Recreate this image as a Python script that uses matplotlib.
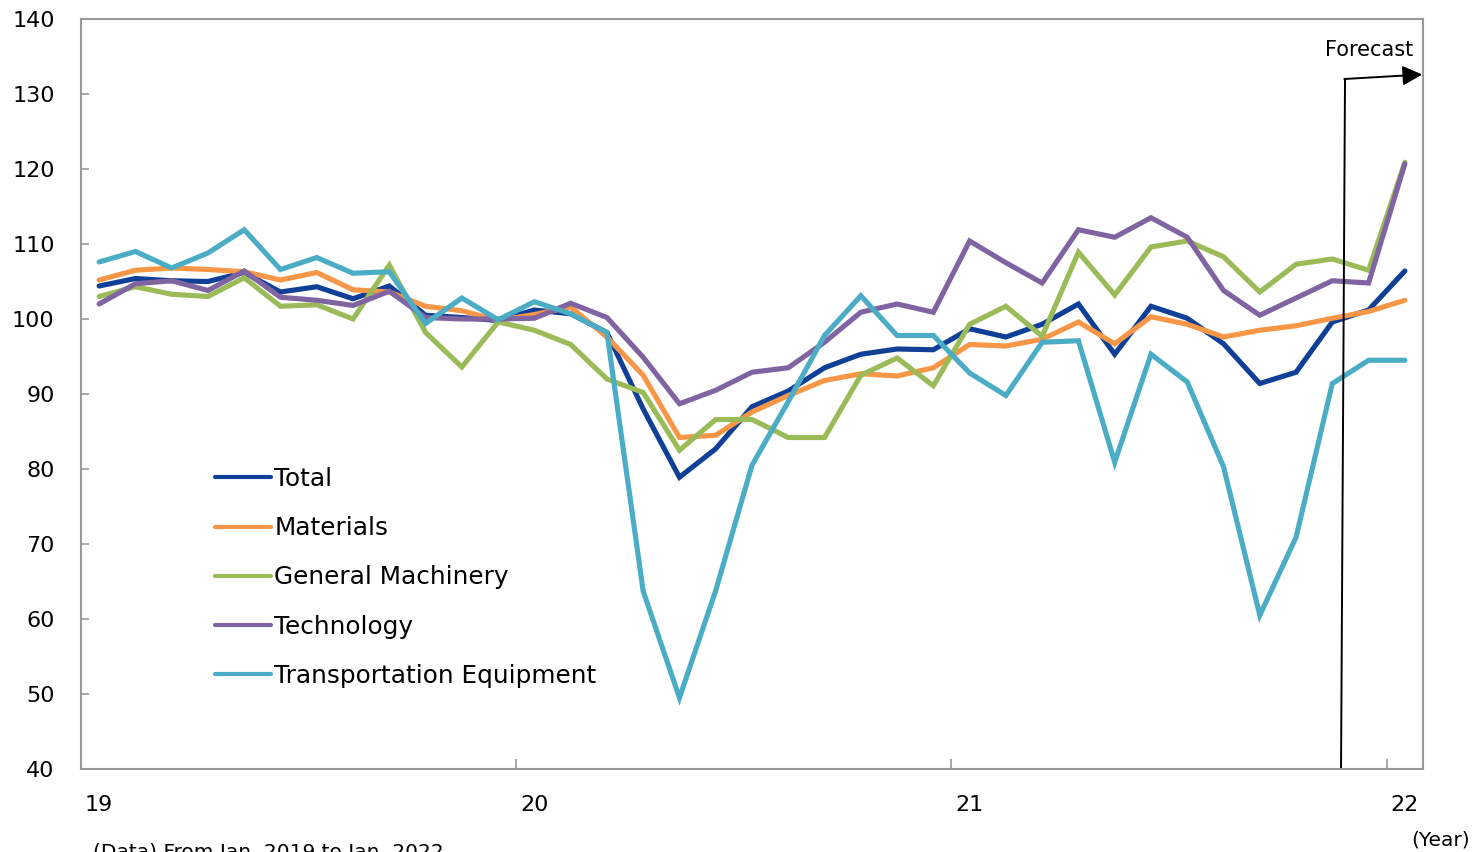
import matplotlib
matplotlib.use('Agg')
import matplotlib.pyplot as plt

# monthly index, Jan 2019 .. Jan 2022
months = list(range(37))
year_labels = ['19', '20', '21', '22']

total = [104.4, 105.4, 105.1, 105.0, 106.2, 103.6, 104.3, 102.7, 104.4, 100.5, 100.2, 99.8,
         101.2, 100.7, 98.2, 88.0, 78.9, 82.7, 88.3, 90.4, 93.5, 95.3, 96.0, 95.9,
         98.7, 97.6, 99.3, 102.0, 95.3, 101.7, 100.1, 96.7, 91.4, 92.9, 99.6, 101.2, 106.4]
materials = [105.2, 106.5, 106.8, 106.6, 106.3, 105.2, 106.2, 103.9, 103.6, 101.7, 101.1, 99.8,
             100.6, 101.6, 97.6, 92.5, 84.2, 84.5, 87.6, 89.8, 91.8, 92.7, 92.4, 93.5,
             96.6, 96.4, 97.3, 99.6, 96.7, 100.3, 99.3, 97.6, 98.5, 99.1, 100.1, 101.0, 102.5]
general = [103.0, 104.3, 103.3, 103.0, 105.5, 101.7, 101.9, 100.0, 107.2, 98.2, 93.6, 99.6,
           98.5, 96.6, 92.0, 90.2, 82.5, 86.6, 86.6, 84.2, 84.2, 92.5, 94.8, 91.1,
           99.3, 101.7, 97.7, 108.9, 103.2, 109.6, 110.4, 108.3, 103.6, 107.3, 108.0, 106.5, 120.9]
technology = [102.0, 104.7, 105.1, 103.8, 106.4, 102.9, 102.5, 101.8, 103.7, 100.2, 100.0, 100.0,
              100.1, 102.1, 100.2, 94.9, 88.7, 90.5, 92.9, 93.5, 96.9, 100.9, 102.0, 100.9,
              110.4, 107.5, 104.8, 111.9, 110.9, 113.5, 110.9, 103.8, 100.5, 102.8, 105.1, 104.8, 120.7]
transport = [107.6, 109.0, 106.8, 108.8, 111.9, 106.6, 108.2, 106.1, 106.3, 99.4, 102.8, 99.9,
             102.3, 100.7, 98.2, 63.7, 49.5, 63.8, 80.5, 89.0, 97.8, 103.1, 97.8, 97.8,
             92.8, 89.8, 96.9, 97.1, 80.9, 95.3, 91.6, 80.3, 60.5, 70.9, 91.4, 94.5, 94.5]

series = [('Total', total, '#0F3F96'),
          ('Materials', materials, '#F79646'),
          ('General Machinery', general, '#9BBB59'),
          ('Technology', technology, '#8064A2'),
          ('Transportation Equipment', transport, '#4BACC6')]

fig = plt.figure(figsize=(14.77, 8.52), dpi=100)
ax = fig.add_axes([81/1477, 1-769/852, (1423-81)/1477, (769-19)/852])

for name, vals, col in series:
    ax.plot(months, vals, color=col, lw=3.7, label=name, solid_capstyle='round',
            solid_joinstyle='miter')

ax.set_xlim(-0.5, 36.5)
ax.set_ylim(40, 140)
ax.set_yticks(range(40, 141, 10))
ax.set_xticks([11.5, 23.5, 35.5])
ax.set_xticklabels([])
ax.set_xticks([0, 12, 24, 36], minor=True)
ax.set_xticklabels(year_labels, minor=True)
ax.tick_params(axis='x', which='major', direction='in', length=7, width=1.2, color='#999999')
ax.tick_params(axis='x', which='minor', length=0, pad=19, labelsize=16)
ax.tick_params(axis='y', direction='in', length=6, width=1.2, color='#999999',
               pad=19, labelsize=16)
for s in ax.spines.values():
    s.set_color('#999999')
    s.set_linewidth(1.5)

# forecast marker
ax.plot([34.24, 34.35], [40, 132.0], color='black', lw=1.4)
ax.annotate('', xy=(36.48, 132.6), xytext=(34.33, 132.0),
            arrowprops=dict(arrowstyle='-|>', color='black', lw=1.4,
                            mutation_scale=30, shrinkA=0, shrinkB=0))
ax.text(36.22, 135.9, 'Forecast', ha='right', va='center', fontsize=15)

leg = ax.legend(loc='upper left', bbox_to_anchor=(215/1477, 1-467/852),
                bbox_transform=fig.transFigure, frameon=False, fontsize=17.8,
                handlelength=2.25, handletextpad=0.15, labelspacing=1.02,
                borderpad=0, borderaxespad=0)
for line in leg.get_lines():
    line.set_linewidth(3.0)

fig.text(1470/1477, 1-840/852, '(Year)', ha='right', va='center', fontsize=14.5)
fig.text(93/1477, 1-843/852, '(Data) From Jan. 2019 to Jan. 2022', ha='left', va='top',
         fontsize=14.5)

fig.savefig('out.png', dpi=100)
